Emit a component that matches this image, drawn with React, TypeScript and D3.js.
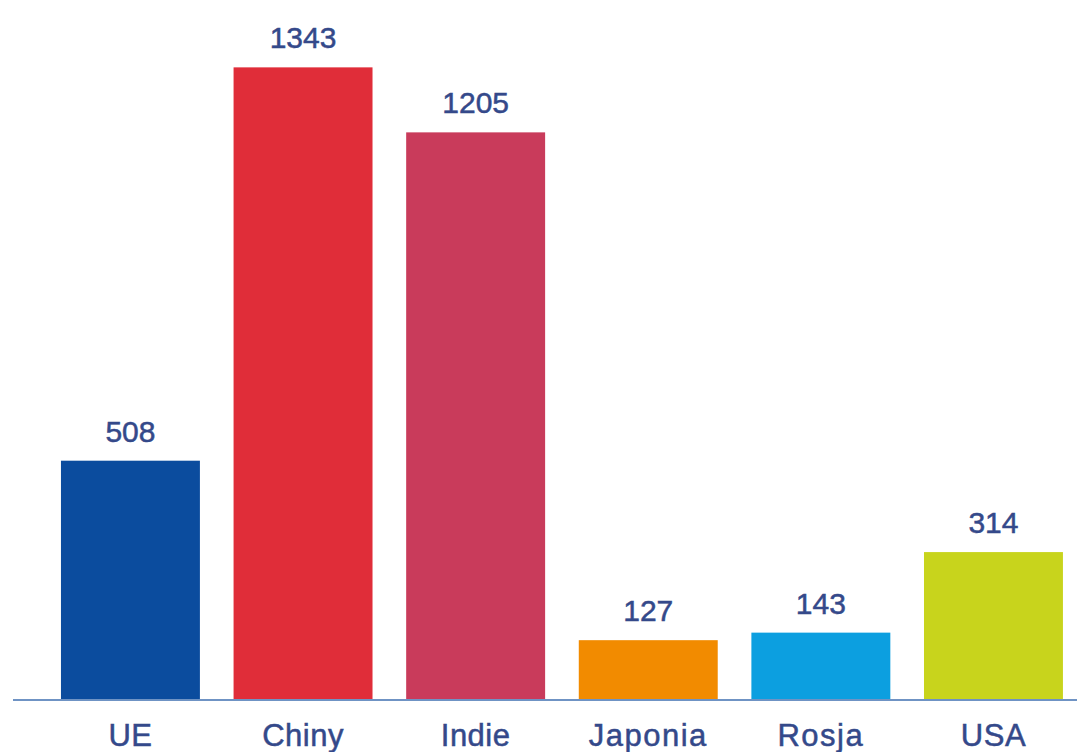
import React from "react";
import * as d3 from "d3";

const categories = ["UE", "Chiny", "Indie", "Japonia", "Rosja", "USA"];
const values = [508, 1343, 1205, 127, 143, 314];
const colors = ["#0B4C9E", "#E02D39", "#C93B5B", "#F28B00", "#0C9FE0", "#C8D41C"];

const W = 1077;
const H = 752;
const baseY = 700;

export default function App() {
  const x = d3
    .scaleBand<string>()
    .domain(categories)
    .range([43.7, 1080.2])
    .paddingInner(0.195)
    .paddingOuter(0.1);
  const y = d3.scaleLinear().domain([0, 1486]).range([baseY, 0]);
  const font = "'Liberation Sans', Arial, sans-serif";
  const textColor = "#34498A";

  return (
    <svg
      width={W}
      height={H}
      style={{ position: "absolute", left: 0, top: 0, background: "#fff" }}
    >
      {categories.map((c, i) => (
        <rect
          key={c}
          x={x(c)}
          y={y(values[i])}
          width={x.bandwidth()}
          height={baseY - y(values[i])}
          fill={colors[i]}
        />
      ))}
      <line x1={13} x2={W} y1={baseY} y2={baseY} stroke="#6F93C4" strokeWidth={2} />
      {categories.map((c, i) => (
        <text
          key={"v" + c}
          x={(x(c) as number) + x.bandwidth() / 2}
          y={y(values[i]) - 19}
          textAnchor="middle"
          fontFamily={font}
          fontSize={30}
          fill={textColor}
          stroke={textColor}
          strokeWidth={0.5}
        >
          {values[i]}
        </text>
      ))}
      {categories.map((c) => (
        <text
          key={"c" + c}
          x={(x(c) as number) + x.bandwidth() / 2}
          y={746}
          textAnchor="middle"
          fontFamily={font}
          fontSize={31}
          letterSpacing={c === "Japonia" || c === "Rosja" ? 1.5 : 0.5}
          fill={textColor}
          stroke={textColor}
          strokeWidth={0.5}
        >
          {c}
        </text>
      ))}
    </svg>
  );
}
